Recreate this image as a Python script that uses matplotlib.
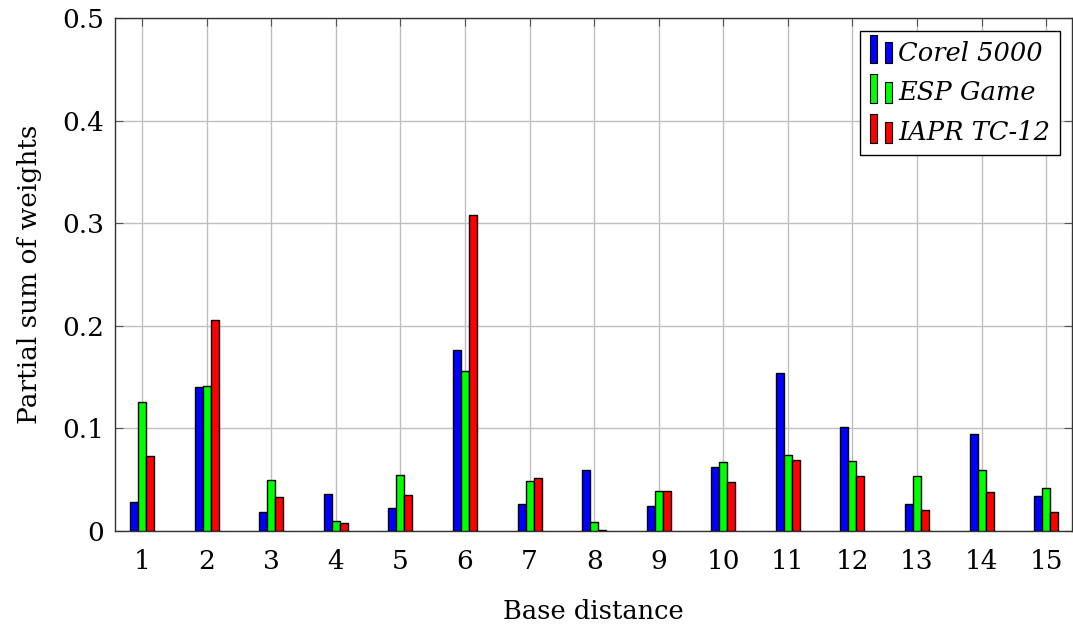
import numpy as np
import matplotlib
matplotlib.use("Agg")
import matplotlib.pyplot as plt
from matplotlib.patches import Rectangle
from matplotlib.container import BarContainer
from matplotlib.legend_handler import HandlerBase

# Partial sum of weights per base distance for each dataset
distances = list(range(1, 16))
corel_5000 = [0.028, 0.140, 0.019, 0.036, 0.022, 0.176, 0.026, 0.059, 0.024, 0.062,
              0.154, 0.101, 0.026, 0.095, 0.034]
esp_game = [0.126, 0.141, 0.050, 0.010, 0.055, 0.156, 0.049, 0.009, 0.039, 0.067,
            0.074, 0.068, 0.054, 0.059, 0.042]
iapr_tc12 = [0.073, 0.206, 0.033, 0.008, 0.035, 0.308, 0.052, 0.001, 0.039, 0.048,
             0.069, 0.054, 0.020, 0.038, 0.019]

series = [("Corel 5000", corel_5000, "#0000ff"),
          ("ESP Game", esp_game, "#00ff00"),
          ("IAPR TC-12", iapr_tc12, "#ff0000")]

plt.rcParams["font.family"] = ["DejaVu Serif"]

fig = plt.figure(figsize=(10.73, 6.26), dpi=100)
ax = fig.add_axes([115 / 1073, 1 - 531 / 626, (1072 - 115) / 1073, (531 - 18) / 626])

width = 0.124
x = np.array(distances, dtype=float)
for i, (name, vals, col) in enumerate(series):
    ax.bar(x + (i - 1) * width, vals, width=width, color=col,
           edgecolor="black", linewidth=1.0, label=name, zorder=3)

ax.set_xlim(0.58, 15.4)
ax.set_ylim(0, 0.5)
ax.set_xticks(distances)
ax.set_yticks([0, 0.1, 0.2, 0.3, 0.4, 0.5])
ax.set_yticklabels(["0", "0.1", "0.2", "0.3", "0.4", "0.5"])
ax.grid(True, color="#bfbfbf", linewidth=1.0, zorder=0)
ax.set_axisbelow(True)
ax.tick_params(axis="both", direction="in", length=6, width=0.8, color="#555555",
               labelsize=19, top=True, right=True)
ax.tick_params(axis="x", pad=13)
ax.tick_params(axis="y", pad=8)
for s in ax.spines.values():
    s.set_color("#333333")
    s.set_linewidth(1.0)

ax.set_xlabel("Base distance", fontsize=18.5, labelpad=18)
ax.set_ylabel("Partial sum of weights", fontsize=19, labelpad=14)


class TwoBarHandler(HandlerBase):
    """Legend key drawn as a pair of small bars."""

    def create_artists(self, legend, orig_handle, xdescent, ydescent,
                       width, height, fontsize, trans):
        col = orig_handle.patches[0].get_facecolor()
        w = width * 0.3
        r1 = Rectangle((-xdescent, -ydescent - 0.15 * height), w, height * 1.6,
                       facecolor=col, edgecolor="black", linewidth=0.8, transform=trans)
        r2 = Rectangle((-xdescent + width * 0.62, -ydescent - 0.15 * height), w, height * 1.2,
                       facecolor=col, edgecolor="black", linewidth=0.8, transform=trans)
        return [r1, r2]


handles, labels = ax.get_legend_handles_labels()
leg = ax.legend(handles, labels, loc="upper right", bbox_to_anchor=(0.9875, 0.975),
                borderaxespad=0.0,
                handler_map={BarContainer: TwoBarHandler()},
                prop={"style": "italic", "size": 18.5}, frameon=True, fancybox=False,
                edgecolor="black", framealpha=1.0, handlelength=0.95, handletextpad=0.15,
                labelspacing=0.58, borderpad=0.38)
leg.get_frame().set_linewidth(1.0)

fig.savefig("out.png", dpi=100)
